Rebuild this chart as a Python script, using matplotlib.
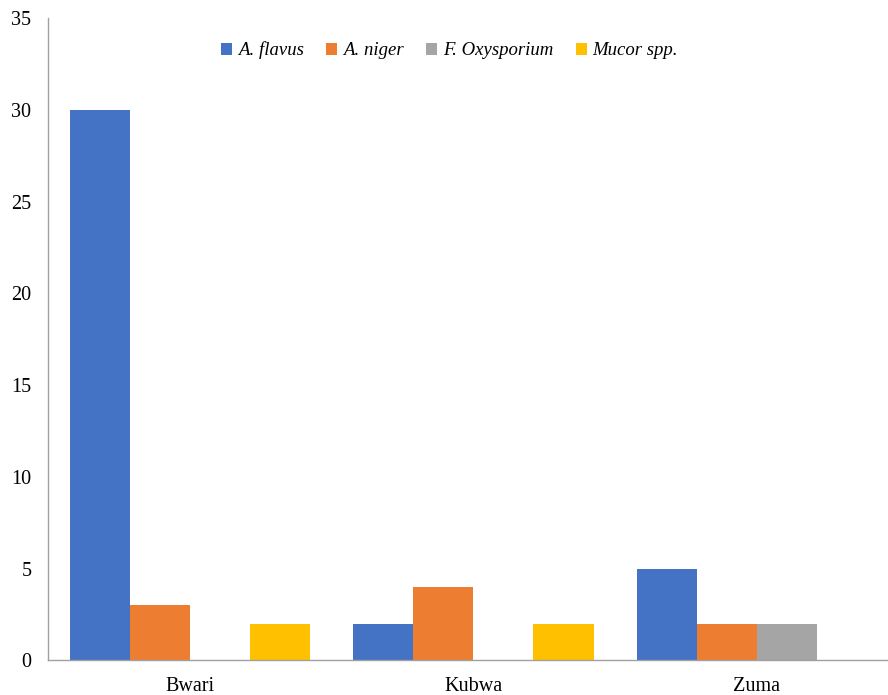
import matplotlib.pyplot as plt
import numpy as np

sites = ['Bwari', 'Kubwa', 'Zuma']
species = ['A. flavus', 'A. niger', 'F. Oxysporium', 'Mucor spp.']
a_flavus = [30, 2, 5]
a_niger = [3, 4, 2]
f_oxysporium = [0, 0, 2]
mucor = [2, 2, 0]
colors = ['#4472C4', '#ED7D31', '#A5A5A5', '#FFC000']

plt.rcParams['font.family'] = ['Liberation Serif', 'DejaVu Serif']

fig = plt.figure(figsize=(8.88, 6.95), dpi=100)
# plot area runs slightly past the right edge, as in the cropped original
ax = fig.add_axes([0.054, 0.050, 0.958, 0.924])

x = np.arange(len(sites))
width = 0.212
series = [a_flavus, a_niger, f_oxysporium, mucor]
for i, (vals, name) in enumerate(zip(series, species)):
    ax.bar(x + (i - 1.5) * width, vals, width, color=colors[i], label=name)

ax.set_xlim(-0.5, len(sites) - 0.5)
ax.set_ylim(0, 35)
ax.set_yticks(range(0, 36, 5))
ax.set_xticks(x)
ax.set_xticklabels(sites)
ax.tick_params(axis='both', length=0, labelsize=14.5, colors='#000000')
ax.tick_params(axis='y', pad=12)
ax.tick_params(axis='x', pad=12)

for s in ['top', 'right']:
    ax.spines[s].set_visible(False)
for s in ['left', 'bottom']:
    ax.spines[s].set_color('#A0A0A0')
    ax.spines[s].set_linewidth(1.0)

leg = ax.legend(loc='upper center', bbox_to_anchor=(0.472, 0.99), ncol=4, frameon=False,
                prop={'style': 'italic', 'size': 13.5}, handlelength=0.6, handleheight=0.6,
                handletextpad=0.3, columnspacing=1.2)

fig.savefig('out.png', dpi=100)
